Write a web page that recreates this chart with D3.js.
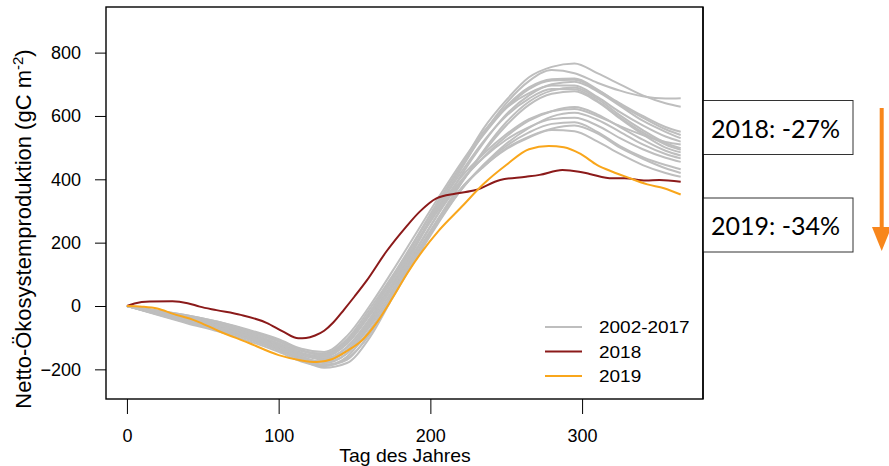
<!DOCTYPE html>
<html>
<head>
<meta charset="utf-8">
<script src="https://cdn.jsdelivr.net/npm/d3@7"></script>
<style>
  html, body { margin: 0; padding: 0; background: #fff; }
  svg { display: block; }
  text { font-family: "Liberation Sans", Arial, Helvetica, sans-serif; fill: #000; }
</style>
</head>
<body>
<svg id="chart" width="889" height="466"></svg>
<script>
// Cumulative net ecosystem production by day of year

const greyDays = [0, 20, 40, 60, 80, 100, 115, 130, 145, 160, 175, 190, 205, 220, 235, 250, 265, 280, 295, 310, 325, 340, 355, 365];

// one row per year 2002-2017 (gC m-2)
const greyYears = [
  [0, -20, -40, -62, -90, -125, -150, -160, -120, -30, 70, 190, 320, 440, 560, 650, 722, 755, 766, 735, 700, 665, 640, 629],
  [0, -25, -50, -70, -100, -135, -165, -175, -140, -50, 60, 185, 310, 430, 545, 640, 710, 745, 735, 705, 680, 662, 655, 656],
  [0, -18, -35, -55, -80, -110, -140, -150, -105, -10, 95, 210, 330, 440, 540, 625, 685, 712, 714, 682, 640, 600, 565, 550],
  [0, -22, -45, -68, -95, -130, -160, -180, -150, -60, 50, 170, 290, 410, 515, 605, 665, 700, 708, 678, 632, 585, 550, 530],
  [0, -15, -30, -50, -75, -105, -135, -145, -95, 0, 110, 225, 340, 450, 550, 625, 672, 696, 696, 660, 612, 570, 535, 519],
  [0, -28, -55, -80, -110, -145, -175, -190, -160, -75, 30, 150, 270, 385, 490, 580, 645, 680, 690, 655, 602, 555, 515, 498],
  [0, -20, -42, -65, -92, -125, -155, -170, -130, -40, 70, 190, 310, 420, 520, 600, 655, 685, 684, 648, 595, 548, 510, 493],
  [0, -24, -48, -72, -100, -135, -165, -185, -165, -90, 40, 160, 275, 385, 485, 570, 635, 670, 678, 645, 592, 542, 500, 485],
  [0, -17, -36, -58, -85, -118, -148, -165, -130, -45, 60, 175, 290, 390, 470, 535, 585, 615, 628, 605, 565, 525, 490, 475],
  [0, -26, -52, -76, -105, -140, -170, -195, -180, -100, 25, 145, 260, 365, 445, 512, 562, 598, 610, 588, 550, 510, 480, 466],
  [0, -14, -30, -50, -78, -110, -140, -155, -110, -20, 85, 195, 300, 395, 468, 525, 565, 590, 594, 570, 530, 495, 468, 455],
  [0, -22, -44, -66, -95, -128, -160, -178, -150, -65, 35, 150, 265, 365, 445, 505, 548, 575, 580, 550, 505, 470, 445, 432],
  [0, -19, -38, -60, -88, -120, -150, -168, -140, -55, 45, 160, 270, 370, 440, 498, 535, 560, 570, 545, 500, 465, 435, 420],
  [0, -25, -50, -74, -102, -138, -168, -188, -170, -85, 35, 150, 265, 370, 440, 495, 532, 556, 552, 520, 480, 445, 420, 408],
  [0, -21, -40, -60, -86, -118, -148, -160, -115, -20, 90, 205, 325, 440, 545, 630, 690, 716, 718, 684, 636, 595, 558, 540],
  [0, -16, -33, -53, -80, -112, -142, -155, -115, -25, 80, 195, 305, 405, 480, 542, 590, 615, 622, 600, 568, 540, 518, 510]
];

const days2018 = [0, 5, 15, 30, 40, 48, 59, 75, 92, 103, 113, 118, 124, 130, 136, 143, 150, 158, 171, 184, 193, 204, 217, 230, 246, 263, 272, 287, 298, 305, 320, 328, 342, 351, 365];
const nep2018  = [0, 8, 14, 15, 9, -2, -13, -28, -53, -81, -102, -101, -93, -78, -52, -12, 30, 80, 172, 250, 298, 340, 355, 366, 398, 408, 414, 429, 424, 417, 403, 403, 396, 398, 392];

const days2019 = [0, 10, 20, 30, 45, 60, 80, 100, 115, 125, 135, 145, 155, 165, 175, 185, 195, 205, 220, 235, 250, 265, 278, 288, 299, 310, 320, 330, 343, 354, 365];
const nep2019  = [0, -2, -8, -24, -46, -78, -116, -155, -172, -177, -168, -142, -108, -50, 25, 105, 175, 235, 310, 385, 445, 495, 505, 501, 480, 445, 424, 406, 384, 372, 352];

const xTicks = [0, 100, 200, 300];
const yTicks = [-200, 0, 200, 400, 600, 800];

const legendLabels = ["2002-2017", "2018", "2019"];
const lineColors = ["#bebebe", "#8b1a1a", "#f9a61b"];
const changeLabels = ["2018: -27%", "2019: -34%"];

const svg = d3.select("#chart");

const x = d3.scaleLinear().domain([-13.8, 379.7]).range([106, 703]);
const y = d3.scaleLinear().domain([-293.6, 944]).range([399, 7]);

const line = d3.line()
  .x(d => x(d[0]))
  .y(d => y(d[1]))
  .curve(d3.curveMonotoneX);

// plot region clip
svg.append("clipPath").attr("id", "plotClip")
  .append("rect").attr("x", 106).attr("y", 7).attr("width", 597).attr("height", 392);

const plot = svg.append("g").attr("clip-path", "url(#plotClip)");

greyYears.forEach(vals => {
  plot.append("path")
    .datum(greyDays.map((d, i) => [d, vals[i]]))
    .attr("d", line)
    .attr("fill", "none")
    .attr("stroke", lineColors[0])
    .attr("stroke-width", 2)
    .attr("stroke-linejoin", "round");
});

plot.append("path")
  .datum(days2018.map((d, i) => [d, nep2018[i]]))
  .attr("d", line)
  .attr("fill", "none")
  .attr("stroke", lineColors[1])
  .attr("stroke-width", 2);

plot.append("path")
  .datum(days2019.map((d, i) => [d, nep2019[i]]))
  .attr("d", line)
  .attr("fill", "none")
  .attr("stroke", lineColors[2])
  .attr("stroke-width", 2);

// axes
const yAxis = svg.append("g")
  .attr("transform", "translate(106,0)")
  .call(d3.axisLeft(y).tickValues(yTicks).tickSize(11).tickPadding(14).tickFormat(d3.format("d")));
yAxis.select(".domain").remove();
yAxis.selectAll("line").attr("stroke", "#000").attr("stroke-width", 1);
yAxis.selectAll("text").style("font-size", "18px").attr("fill", "#000")
  .style("font-family", "'Liberation Sans', Arial, sans-serif");

const xAxis = svg.append("g")
  .attr("transform", "translate(0,399)")
  .call(d3.axisBottom(x).tickValues(xTicks).tickSize(15).tickFormat(d3.format("d")));
xAxis.select(".domain").remove();
xAxis.selectAll("line").attr("stroke", "#000").attr("stroke-width", 1);
xAxis.selectAll("text").attr("dy", null).attr("y", 43).style("font-size", "18px").attr("fill", "#000")
  .style("font-family", "'Liberation Sans', Arial, sans-serif");

// plot frame
svg.append("rect")
  .attr("x", 106).attr("y", 7).attr("width", 597).attr("height", 392)
  .attr("fill", "none").attr("stroke", "#000").attr("stroke-width", 1.4);

// axis titles
svg.append("text")
  .attr("transform", "translate(405,462) scale(1.11,1)")
  .attr("text-anchor", "middle")
  .style("font-size", "17.5px")
  .text("Tag des Jahres");

const yTitle = svg.append("text")
  .attr("transform", "translate(31,229) rotate(-90)")
  .attr("text-anchor", "middle")
  .style("font-size", "22px");
yTitle.append("tspan").text("Netto-Ökosystemproduktion (gC m");
yTitle.append("tspan").attr("dy", -8).style("font-size", "15px").text("-2");
yTitle.append("tspan").attr("dy", 8).text(")");

// legend
const legend = svg.append("g");
legendLabels.forEach((lab, i) => {
  const ly = 327 + i * 24.5;
  legend.append("line")
    .attr("x1", 545).attr("x2", 582).attr("y1", ly).attr("y2", ly)
    .attr("stroke", lineColors[i]).attr("stroke-width", 2);
  legend.append("text")
    .attr("transform", `translate(599,${ly + 6}) scale(1.15,1)`)
    .style("font-size", "16.5px")
    .text(lab);
});

// change annotations
changeLabels.forEach((lab, i) => {
  const top = i === 0 ? 100.5 : 198;
  svg.append("rect")
    .attr("x", 703).attr("y", top).attr("width", 150).attr("height", 54)
    .attr("fill", "#fff").attr("stroke", "#333").attr("stroke-width", 1);
  svg.append("text")
    .attr("x", 711).attr("y", top + 37)
    .style("font-family", "Lato, 'Open Sans', sans-serif")
    .style("font-size", "25px")
    .attr("fill", "#111")
    .text(lab);
});
// redraw the frame's right edge over the boxes
svg.append("line")
  .attr("x1", 703).attr("x2", 703).attr("y1", 7).attr("y2", 399)
  .attr("stroke", "#000").attr("stroke-width", 1.4);

// downward arrow
const arrowColor = "#f8861c";
svg.append("rect")
  .attr("x", 879.7).attr("y", 108).attr("width", 4).attr("height", 122)
  .attr("fill", arrowColor);
svg.append("path")
  .attr("d", "M872,227 L891.5,227 L881.7,251 Z")
  .attr("fill", arrowColor);
</script>
</body>
</html>
